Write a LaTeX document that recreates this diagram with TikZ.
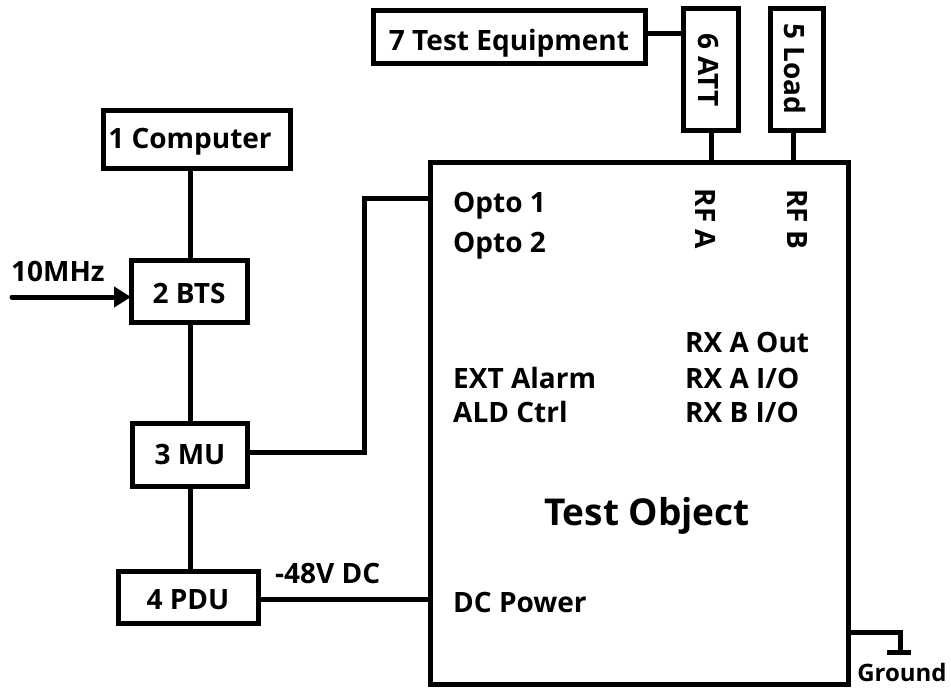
\documentclass[tikz,border=0pt]{standalone}
\usepackage{fontspec}
\setmainfont{Open Sans}
\usetikzlibrary{arrows.meta}
\begin{document}
\begin{tikzpicture}[x=1pt,y=-1pt,
  ln/.style={line width=5pt},
  lbl/.style={font=\fontsize{28}{28}\selectfont\bfseries, inner sep=0pt},
  rlbl/.style={lbl, rotate=-90},
]
\useasboundingbox (0,0) rectangle (951,689);
% boxes
\draw[ln] (430,162) rectangle (848,684);
\draw[ln] (373,10) rectangle (645,63);
\draw[ln] (683,8) rectangle (738,130);
\draw[ln] (770,8) rectangle (823,130);
\draw[ln] (103,110) rectangle (290,168);
\draw[ln] (131,260) rectangle (247,322);
\draw[ln] (132,423) rectangle (247,486);
\draw[ln] (118,571) rectangle (258,623);
% named anchors
\coordinate (teR) at (645,33);
\coordinate (attL) at (683,33);
\coordinate (attB) at (711,130);
\coordinate (attT) at (711,162);
\coordinate (loadB) at (793,130);
\coordinate (loadT) at (793,162);
\coordinate (compB) at (190,168);
\coordinate (btsT) at (190,260);
\coordinate (btsB) at (190,322);
\coordinate (btsL) at (131,297);
\coordinate (muT) at (190,423);
\coordinate (muB) at (190,486);
\coordinate (muR) at (247,452);
\coordinate (pduT) at (190,571);
\coordinate (pduR) at (258,599);
\coordinate (opto) at (430,198);
\coordinate (dcin) at (430,599);
\coordinate (gndA) at (848,632);
\coordinate (gndB) at (900,652);
\coordinate (inA) at (12,297);
% texts
\node[lbl, anchor=base] (te) at (509,50) {7 Test Equipment};
\node[rlbl] (att) at (708,70) {6 ATT};
\node[rlbl] (load) at (795,69) {5 Load};
\node[lbl, anchor=base] (comp) at (190,148) {1 Computer};
\node[lbl, anchor=base] (bts) at (189,303) {2 BTS};
\node[lbl, anchor=base] (mu) at (190,464) {3 MU};
\node[lbl, anchor=base] (pdu) at (188,609) {4 PDU};
\node[lbl, anchor=base west] (mhz) at (11,281) {10MHz};
\node[lbl, anchor=base west] (dcv) at (275,583) {-48V DC};
\node[lbl, anchor=base west] (o1) at (453,212) {Opto 1};
\node[lbl, anchor=base west] (o2) at (453,252) {Opto 2};
\node[rlbl] (rfa) at (706,219) {RF A};
\node[rlbl] (rfb) at (797,219) {RF B};
\node[lbl, anchor=base west] (rx1) at (685,352) {RX A Out};
\node[lbl, anchor=base west] (rx2) at (685,388) {RX A I/O};
\node[lbl, anchor=base west] (rx3) at (685,422) {RX B I/O};
\node[lbl, anchor=base west] (ext) at (453,388) {EXT Alarm};
\node[lbl, anchor=base west] (ald) at (453,422) {ALD Ctrl};
\node[lbl, anchor=base, font=\fontsize{37}{37}\selectfont\bfseries] (tobj) at (647,525) {Test Object};
\node[lbl, anchor=base west] (dcp) at (453,612) {DC Power};
\node[lbl, anchor=base, font=\fontsize{24}{24}\selectfont\bfseries] (gnd) at (902,681) {Ground};
% connectors
\draw[ln] (teR) -- (attL);
\draw[ln] (attB) -- (attT);
\draw[ln] (loadB) -- (loadT);
\draw[ln] (compB) -- (btsT);
\draw[ln] (btsB) -- (muT);
\draw[ln] (muB) -- (pduT);
\draw[ln] (muR) -- (364,452) -- (364,198) -- (opto);
\draw[ln] (pduR) -- (dcin);
\draw[ln, line cap=round, -{Triangle[length=17pt,width=20pt]}] (inA) -- (btsL);
\draw[ln] (gndA) -- (900,632) -- (gndB);
\draw[ln] (887,652) -- (911,652);
\end{tikzpicture}
\end{document}
